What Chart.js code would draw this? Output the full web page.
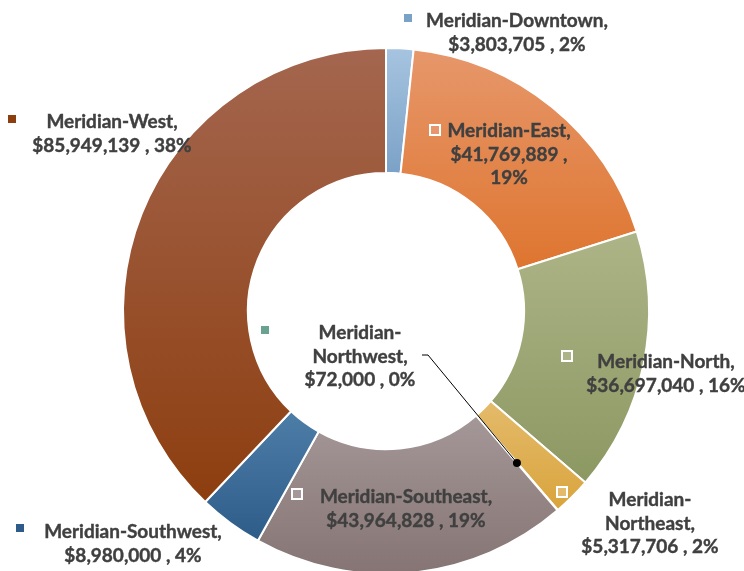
<!DOCTYPE html>
<html>
<head>
<meta charset="utf-8">
<title>Revenue by site</title>
<script src="https://cdn.jsdelivr.net/npm/chart.js@4.4.0/dist/chart.umd.min.js"></script>
<style>
  html, body { margin: 0; padding: 0; background: #fff; overflow: hidden; }
  canvas { display: block; }
</style>
</head>
<body>
<canvas id="myChart" width="744" height="571"></canvas>
<script>
/*****************************Donnees*********************************/
const sites = ['Meridian-Downtown', 'Meridian-East', 'Meridian-North', 'Meridian-Northeast',
  'Meridian-Northwest', 'Meridian-Southeast', 'Meridian-Southwest', 'Meridian-West'];
const revenue = [3803705, 41769889, 36697040, 5317706, 72000, 43964828, 8980000, 85949139];
const shares = ['2%', '19%', '16%', '2%', '0%', '19%', '4%', '38%'];

/*****************************Couleurs*********************************/
// each slice fades from a light top to a darker bottom
const colorsTop = ['#a6c4e0', '#e7976b', '#adb487', '#e4bb6c', '#85b5a8', '#a59898', '#4d7ea8', '#a4664f'];
const colorsBottom = ['#7aa1c6', '#de752f', '#8c9862', '#d9a43c', '#6aa292', '#857473', '#2d5c88', '#8d3e0f'];

const OUTER = 263;
const INNER = 136;

// where each data label sits (centre of its first line) and its little key square
const labelBoxes = [
  {x: 517, y: 21, kx: 408, ky: 18, key: 'fill', wrap: 'none'},
  {x: 509, y: 131, kx: 435, ky: 130, key: 'hollow', wrap: 'pct'},
  {x: 666, y: 362, kx: 567, ky: 356, key: 'hollow', wrap: 'none'},
  {x: 650, y: 500, kx: 562, ky: 492, key: 'hollow', wrap: 'name'},
  {x: 360, y: 333, kx: 265, ky: 330, key: 'fill', wrap: 'name'},
  {x: 406, y: 497, kx: 297, ky: 494, key: 'hollow', wrap: 'none'},
  {x: 133, y: 532, kx: 20, ky: 528, key: 'fill', wrap: 'none'},
  {x: 112, y: 122, kx: 12, ky: 119, key: 'fill', wrap: 'none'}
];

function labelLines(i, wrap) {
  const name = sites[i];
  const money = '$' + revenue[i].toLocaleString('en-US');
  if (wrap === 'name') {
    return ['Meridian-', name.replace('Meridian-', '') + ',', money + ' , ' + shares[i]];
  }
  if (wrap === 'pct') {
    return [name + ',', money + ' ,', shares[i]];
  }
  return [name + ',', money + ' , ' + shares[i]];
}

/************************gradient par part*****************************/
function sliceGradient(context) {
  const chart = context.chart;
  const area = chart.chartArea;
  const i = context.dataIndex;
  if (!area || i === undefined) return colorsTop[i || 0];
  const cx = (area.left + area.right) / 2;
  const cy = (area.top + area.bottom) / 2;
  const total = revenue.reduce((a, b) => a + b, 0);
  let start = -Math.PI / 2;
  for (let k = 0; k < i; k++) start += revenue[k] / total * 2 * Math.PI;
  const end = start + revenue[i] / total * 2 * Math.PI;
  let top = Infinity, bottom = -Infinity;
  for (let s = 0; s <= 60; s++) {
    const a = start + (end - start) * s / 60;
    [OUTER, INNER].forEach(r => {
      const y = cy + r * Math.sin(a);
      top = Math.min(top, y);
      bottom = Math.max(bottom, y);
    });
  }
  if (bottom - top < 1) bottom = top + 1;
  const g = chart.ctx.createLinearGradient(0, top, 0, bottom);
  g.addColorStop(0, colorsTop[i]);
  g.addColorStop(1, colorsBottom[i]);
  return g;
}

/************************etiquettes*************************************/
const dataLabels = {
  id: 'dataLabels',
  afterDatasetsDraw(chart) {
    const ctx = chart.ctx;
    const meta = chart.getDatasetMeta(0);
    ctx.save();

    // leader line for the tiny Northwest slice
    const p = meta.data[4].getCenterPoint();
    ctx.strokeStyle = '#000';
    ctx.lineWidth = 1;
    ctx.beginPath();
    ctx.moveTo(422, 355);
    ctx.lineTo(428, 355);
    ctx.lineTo(p.x, p.y);
    ctx.stroke();
    ctx.fillStyle = '#000';
    ctx.beginPath();
    ctx.arc(p.x, p.y, 4, 0, Math.PI * 2);
    ctx.fill();

    labelBoxes.forEach((b, i) => {
      // key square
      if (b.key === 'fill') {
        ctx.fillStyle = colorsBottom[i];
        ctx.fillRect(b.kx - 4, b.ky - 4, 8, 8);
      } else {
        ctx.fillStyle = colorsTop[i];
        ctx.fillRect(b.kx - 5, b.ky - 5, 10, 10);
        ctx.strokeStyle = '#fff';
        ctx.lineWidth = 2;
        ctx.strokeRect(b.kx - 5, b.ky - 5, 10, 10);
      }
      ctx.fillStyle = '#404040';
      ctx.strokeStyle = '#404040';
      ctx.lineWidth = 0.4;
      ctx.font = 'bold 19px Lato';
      ctx.textAlign = 'center';
      ctx.textBaseline = 'middle';
      labelLines(i, b.wrap).forEach((line, n) => {
        ctx.fillText(line, b.x, b.y + n * 23.5);
        ctx.strokeText(line, b.x, b.y + n * 23.5);
      });
    });
    ctx.restore();
  }
};

/*************************chart************************************* */
const ctx = document.getElementById('myChart');
const myChart = new Chart(ctx, {
  type: 'doughnut',
  data: {
    labels: sites,
    datasets: [{
      data: revenue,
      backgroundColor: sliceGradient,
      borderColor: '#fff',
      borderWidth: 2,
      radius: OUTER,
      cutout: INNER,
      clip: false
    }]
  },
  options: {
    responsive: false,
    animation: false,
    devicePixelRatio: 1,
    layout: {
      padding: {left: 28, right: 0, top: 51, bottom: 0}
    },
    plugins: {
      legend: {display: false},
      tooltip: {enabled: false}
    }
  },
  plugins: [dataLabels]
});
</script>
</body>
</html>
